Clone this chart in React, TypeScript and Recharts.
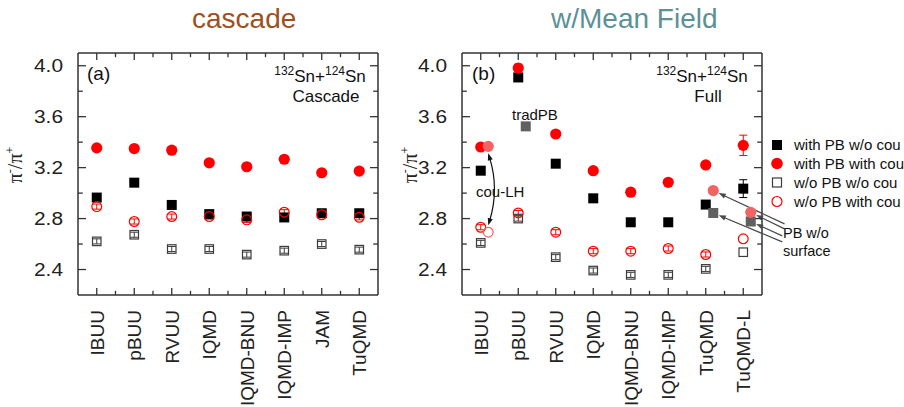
import React from "react";
import { ScatterChart, Scatter, XAxis, YAxis, ErrorBar, ReferenceLine } from "recharts";

const SANS = '"Liberation Sans", Arial, Helvetica, sans-serif';
const SERIF = '"Liberation Serif", "Times New Roman", serif';
const RED = "#ff0000";
const LIGHT_RED = "#f26464";
const GREY = "#606060";
const FRAME = "#333333";
const ARROW = "#4a4a4a";

// panel (a): cascade only
const cascadeModels = ["IBUU", "pBUU", "RVUU", "IQMD", "IQMD-BNU", "IQMD-IMP", "JAM", "TuQMD"];
const cascadePbNoCou = [2.965, 3.082, 2.907, 2.835, 2.816, 2.809, 2.842, 2.842];
const cascadePbCou = [3.355, 3.35, 3.337, 3.238, 3.207, 3.266, 3.16, 3.173];
const cascadeNoPbNoCou = [2.621, 2.673, 2.561, 2.561, 2.517, 2.548, 2.6, 2.556];
const cascadeNoPbCou = [2.894, 2.777, 2.816, 2.816, 2.79, 2.85, 2.83, 2.81];
const cascadeNoPbErr = [0.02, 0.02, 0.02, 0.02, 0.02, 0.02, 0.02, 0.02];

// panel (b): full calculation with mean field
const fullModels = ["IBUU", "pBUU", "RVUU", "IQMD", "IQMD-BNU", "IQMD-IMP", "TuQMD", "TuQMD-L"];
const fullPbNoCou = [3.176, 3.908, 3.231, 2.959, 2.771, 2.771, 2.91, 3.035];
const fullPbNoCouErr = [0, 0.02, 0.02, 0, 0, 0, 0, 0.07];
const fullPbCou = [3.362, 3.982, 3.464, 3.176, 3.007, 3.085, 3.221, 3.375];
const fullPbCouErr = [0, 0.03, 0, 0, 0, 0, 0, 0.08];
const fullNoPbNoCou = [2.609, 2.8, 2.497, 2.392, 2.358, 2.358, 2.405, 2.536];
const fullNoPbCou = [2.732, 2.844, 2.693, 2.544, 2.544, 2.565, 2.518, 2.641];
const fullNoPbErr = [0.02, 0.02, 0.02, 0.02, 0.02, 0.02, 0.02, 0];

// variants drawn just right of their model
const couLhModels = ["IBUU"];
const couLhPbCou = [3.367];
const couLhNoPbCou = [2.693];
const tradPbModels = ["pBUU"];
const tradPbPbNoCou = [3.524];
const noSurfaceModels = ["TuQMD", "TuQMD-L"];
const noSurfacePbCou = [3.02, 2.849];
const noSurfacePbNoCou = [2.844, 2.777];
const VARIANT_SHIFT = 0.2;

const yTicks = [2.4, 2.6, 2.8, 3.0, 3.2, 3.4, 3.6, 3.8, 4.0];
const yMajor = [2.4, 2.8, 3.2, 3.6, 4.0];
const xTicks = [1, 1.5, 2, 2.5, 3, 3.5, 4, 4.5, 5, 5.5, 6, 6.5, 7, 7.5, 8];
const Y_DOMAIN = [2.2, 4.1];
const X_DOMAIN = [0.5, 8.5];
const GAP = 9;

const pts = (axisModels: string[], models: string[], vals: number[], errs?: number[], shift = 0) =>
  vals.map((y, i) => ({ x: axisModels.indexOf(models[i]) + 1 + shift, y, err: errs ? errs[i] : 0 }));

const isMajorY = (v: number) => yMajor.some((m) => Math.abs(m - v) < 1e-6);

// marker shapes
const filledSquare = (color: string, s = 10) => (p: any) =>
  <rect x={p.cx - s / 2} y={p.cy - s / 2} width={s} height={s} fill={color} />;
const openSquare = (s = 8.5) => (p: any) =>
  <rect x={p.cx - s / 2} y={p.cy - s / 2} width={s} height={s} fill="none" stroke="#3c3c3c" strokeWidth={1.2} />;
const filledCircle = (color: string, r = 5.6) => (p: any) => <circle cx={p.cx} cy={p.cy} r={r} fill={color} />;
const openCircle = (color: string, r = 4.9) => (p: any) =>
  <circle cx={p.cx} cy={p.cy} r={r} fill="none" stroke={color} strokeWidth={1.2} />;

// tick labels only; the inward tick marks are drawn on the frame
const LeftTick = (p: any) => {
  const v = p.payload.value;
  if (!isMajorY(v)) return <g />;
  return (
    <text x={p.x} y={p.y} dy="0.36em" textAnchor="end" fontFamily={SANS} fontSize={18} fill="#222"
      textLength={29} lengthAdjust="spacingAndGlyphs">
      {v.toFixed(1)}
    </text>
  );
};

const makeBottomTick = (models: string[]) => (p: any) => {
  const v = p.payload.value;
  if (!Number.isInteger(v)) return <g />;
  const ty = p.y;
  return (
    <text x={p.x} y={ty} dy="0.36em" textAnchor="end" transform={`rotate(-90 ${p.x} ${ty})`}
      fontFamily={SANS} fontSize={19} fill="#222">
      {models[v - 1]}
    </text>
  );
};

// inward tick marks, anchored on the frame edges through the chart scales
const tickMark = (dx: number, dy: number) => (p: any) => {
  const k = p.payload && p.payload.major ? 1 : 0.6;
  return <line x1={p.cx} y1={p.cy} x2={p.cx + dx * k} y2={p.cy + dy * k} stroke={FRAME} strokeWidth={1.3} />;
};

// arrow annotations (coordinates come from the chart scales)
const head = (tx: number, ty: number, ux: number, uy: number, len = 7, half = 2.6) =>
  `${tx},${ty} ${tx - ux * len - uy * half},${ty - uy * len + ux * half} ${tx - ux * len + uy * half},${ty - uy * len - ux * half}`;

const pointer = (p: any) => {
  const { x1, y1, x2, y2 } = p;
  const L = Math.hypot(x2 - x1, y2 - y1);
  const ux = (x2 - x1) / L;
  const uy = (y2 - y1) / L;
  const ex = x2 - ux * 6;
  const ey = y2 - uy * 6;
  return (
    <g>
      <line x1={x1} y1={y1} x2={ex - ux * 5} y2={ey - uy * 5} stroke={ARROW} strokeWidth={1.3} />
      <polygon points={head(ex, ey, ux, uy)} fill={ARROW} />
    </g>
  );
};

const doubleCurve = (p: any) => {
  const { x1, y1, x2, y2 } = p;
  const cx = (x1 + x2) / 2 + 11;
  const cy = (y1 + y2) / 2;
  const sx = x1;
  const sy = y1 + 7;
  const ex = x2;
  const ey = y2 - 7;
  const n1 = Math.hypot(sx - cx, sy - cy);
  const n2 = Math.hypot(ex - cx, ey - cy);
  const u1 = [(sx - cx) / n1, (sy - cy) / n1];
  const u2 = [(ex - cx) / n2, (ey - cy) / n2];
  return (
    <g>
      <path d={`M${sx - u1[0] * 5},${sy - u1[1] * 5} Q${cx},${cy} ${ex - u2[0] * 5},${ey - u2[1] * 5}`}
        fill="none" stroke="#111" strokeWidth={1.2} />
      <polygon points={head(sx, sy, u1[0], u1[1])} fill="#111" />
      <polygon points={head(ex, ey, u2[0], u2[1])} fill="#111" />
    </g>
  );
};

interface PanelProps {
  models: string[];
  pbNoCou: any[];
  pbCou: any[];
  noPbNoCou: any[];
  noPbCou: any[];
  width: number;
  margin: { top: number; right: number; bottom: number; left: number };
  children?: React.ReactNode;
}

function Panel({ models, pbNoCou, pbCou, noPbNoCou, noPbCou, width, margin, children }: PanelProps) {
  const [x0, x1] = X_DOMAIN;
  const [y0, y1] = Y_DOMAIN;
  const leftTicks = yTicks.map((v) => ({ x: x0, y: v, major: isMajorY(v) }));
  const rightTicks = yTicks.map((v) => ({ x: x1, y: v, major: isMajorY(v) }));
  const bottomTicks = xTicks.map((v) => ({ x: v, y: y0, major: Number.isInteger(v) }));
  const topTicks = xTicks.map((v) => ({ x: v, y: y1, major: Number.isInteger(v) }));
  return (
    <ScatterChart width={width} height={407} margin={margin}>
      <XAxis type="number" dataKey="x" domain={X_DOMAIN} ticks={xTicks} interval={0} height={100}
        axisLine={{ stroke: FRAME, strokeWidth: 1.5 }} tickLine={false} tickMargin={GAP}
        tick={makeBottomTick(models)} />
      <YAxis type="number" dataKey="y" domain={Y_DOMAIN} ticks={yTicks} interval={0} width={60}
        axisLine={{ stroke: FRAME, strokeWidth: 1.5 }} tickLine={false} tickMargin={GAP}
        tick={LeftTick} />
      <ReferenceLine segment={[{ x: x1, y: y0 }, { x: x1, y: y1 }]} stroke={FRAME} strokeWidth={1.5} />
      <ReferenceLine segment={[{ x: x0, y: y1 }, { x: x1, y: y1 }]} stroke={FRAME} strokeWidth={1.5} />
      <Scatter data={leftTicks} shape={tickMark(8, 0)} isAnimationActive={false} />
      <Scatter data={rightTicks} shape={tickMark(-8, 0)} isAnimationActive={false} />
      <Scatter data={bottomTicks} shape={tickMark(0, -7)} isAnimationActive={false} />
      <Scatter data={topTicks} shape={tickMark(0, 7)} isAnimationActive={false} />
      <Scatter data={noPbNoCou} shape={openSquare()} isAnimationActive={false}>
        <ErrorBar dataKey="err" direction="y" width={4} stroke="#3c3c3c" strokeWidth={1} />
      </Scatter>
      <Scatter data={pbNoCou} shape={filledSquare("#000")} isAnimationActive={false}>
        <ErrorBar dataKey="err" direction="y" width={4} stroke="#000" strokeWidth={1} />
      </Scatter>
      <Scatter data={noPbCou} shape={openCircle(RED)} isAnimationActive={false}>
        <ErrorBar dataKey="err" direction="y" width={4} stroke={RED} strokeWidth={1} />
      </Scatter>
      <Scatter data={pbCou} shape={filledCircle(RED)} isAnimationActive={false}>
        <ErrorBar dataKey="err" direction="y" width={4} stroke={RED} strokeWidth={1} />
      </Scatter>
      {children}
    </ScatterChart>
  );
}

const superRow = (cx: number, y: number) => (
  <text x={cx} y={y} textAnchor="middle" fontFamily={SANS} fill="#111">
    <tspan fontSize={12} dy={-7}>132</tspan>
    <tspan fontSize={17} dy={7}>Sn+</tspan>
    <tspan fontSize={12} dy={-7}>124</tspan>
    <tspan fontSize={17} dy={7}>Sn</tspan>
  </text>
);

const yLabel = (x: number, y: number) => (
  <text x={x} y={y} transform={`rotate(-90 ${x} ${y})`} textAnchor="middle" fontFamily={SERIF} fontSize={20} fill="#222">
    π<tspan fontSize={12} dy={-8}>-</tspan>
    <tspan dy={8}>/π</tspan>
    <tspan fontSize={12} dy={-8}>+</tspan>
  </text>
);

export default function App() {
  const couLh = pts(fullModels, couLhModels, couLhPbCou, undefined, VARIANT_SHIFT);
  const couLhOpen = pts(fullModels, couLhModels, couLhNoPbCou, undefined, VARIANT_SHIFT);
  const tradPb = pts(fullModels, tradPbModels, tradPbPbNoCou, undefined, VARIANT_SHIFT);
  const noSurfCou = pts(fullModels, noSurfaceModels, noSurfacePbCou, undefined, VARIANT_SHIFT);
  const noSurfNoCou = pts(fullModels, noSurfaceModels, noSurfacePbNoCou, undefined, VARIANT_SHIFT);

  const legendRows = [
    { label: "with PB w/o cou", y: 145, shape: <rect x={772} y={140} width={10} height={10} fill="#000" /> },
    { label: "with PB with cou", y: 163.5, shape: <circle cx={777} cy={163.5} r={5.8} fill={RED} /> },
    { label: "w/o PB w/o cou", y: 182.5, shape: <rect x={772.5} y={178} width={9} height={9} fill="none" stroke="#3c3c3c" strokeWidth={1.2} /> },
    { label: "w/o PB with cou", y: 201.5, shape: <circle cx={777} cy={201.5} r={5} fill="none" stroke={RED} strokeWidth={1.2} /> },
  ];

  return (
    <div style={{ position: "absolute", left: 0, top: 0, width: 904, height: 407, background: "#fff", overflow: "hidden" }}>
      <div style={{ position: "absolute", left: 0, top: 0 }}>
        <Panel models={cascadeModels}
          pbNoCou={pts(cascadeModels, cascadeModels, cascadePbNoCou)}
          pbCou={pts(cascadeModels, cascadeModels, cascadePbCou)}
          noPbNoCou={pts(cascadeModels, cascadeModels, cascadeNoPbNoCou, cascadeNoPbErr)}
          noPbCou={pts(cascadeModels, cascadeModels, cascadeNoPbCou, cascadeNoPbErr)}
          width={400} margin={{ top: 53, right: 22, bottom: 12, left: 18 }} />
      </div>
      <div style={{ position: "absolute", left: 402, top: 0 }}>
        <Panel models={fullModels}
          pbNoCou={pts(fullModels, fullModels, fullPbNoCou, fullPbNoCouErr)}
          pbCou={pts(fullModels, fullModels, fullPbCou, fullPbCouErr)}
          noPbNoCou={pts(fullModels, fullModels, fullNoPbNoCou, fullNoPbErr)}
          noPbCou={pts(fullModels, fullModels, fullNoPbCou, fullNoPbErr)}
          width={502} margin={{ top: 53, right: 142, bottom: 12, left: 0 }}>
          <Scatter data={tradPb} shape={filledSquare(GREY)} isAnimationActive={false} />
          <Scatter data={noSurfNoCou} shape={filledSquare(GREY)} isAnimationActive={false} />
          <Scatter data={couLhOpen} shape={openCircle(LIGHT_RED)} isAnimationActive={false} />
          <Scatter data={couLh} shape={filledCircle(LIGHT_RED)} isAnimationActive={false} />
          <Scatter data={noSurfCou} shape={filledCircle(LIGHT_RED)} isAnimationActive={false} />
          <ReferenceLine ifOverflow="visible" shape={doubleCurve}
            segment={[{ x: couLh[0].x, y: couLh[0].y }, { x: couLhOpen[0].x, y: couLhOpen[0].y }]} />
          <ReferenceLine ifOverflow="visible" shape={pointer}
            segment={[{ x: 9.1, y: 2.758 }, { x: noSurfCou[0].x, y: noSurfCou[0].y }]} />
          <ReferenceLine ifOverflow="visible" shape={pointer}
            segment={[{ x: 9.1, y: 2.719 }, { x: noSurfCou[1].x, y: noSurfCou[1].y }]} />
          <ReferenceLine ifOverflow="visible" shape={pointer}
            segment={[{ x: 9.04, y: 2.664 }, { x: noSurfNoCou[1].x, y: noSurfNoCou[1].y }]} />
          <ReferenceLine ifOverflow="visible" shape={pointer}
            segment={[{ x: 9.04, y: 2.617 }, { x: noSurfNoCou[0].x, y: noSurfNoCou[0].y }]} />
        </Panel>
      </div>

      {/* titles, panel texts and legend */}
      <svg width={904} height={407} style={{ position: "absolute", left: 0, top: 0, pointerEvents: "none" }}>
        <text x={192} y={28} fontFamily={SANS} fontSize={28} fill="#a0501c">cascade</text>
        <text x={551} y={28} fontFamily={SANS} fontSize={28} fill="#5b9197">w/Mean Field</text>

        {yLabel(22, 165)}
        {yLabel(417, 165)}

        <text x={87} y={80} fontFamily={SANS} fontSize={19} fill="#111">(a)</text>
        <text x={472} y={80} fontFamily={SANS} fontSize={19} fill="#111">(b)</text>
        {superRow(320, 82)}
        <text x={326} y={102} textAnchor="middle" fontFamily={SANS} fontSize={17} fill="#111">Cascade</text>
        {superRow(702, 82)}
        <text x={708} y={102} textAnchor="middle" fontFamily={SANS} fontSize={17} fill="#111">Full</text>

        <text x={512} y={120} fontFamily={SANS} fontSize={15} fill="#111">tradPB</text>
        <text x={476} y={197} fontFamily={SANS} fontSize={15} fill="#111">cou-LH</text>
        <text x={783} y={238} fontFamily={SANS} fontSize={14.5} fill="#111">PB w/o</text>
        <text x={783} y={256} fontFamily={SANS} fontSize={14.5} fill="#111">surface</text>

        {legendRows.map((r) => (
          <g key={r.label}>
            {r.shape}
            <text x={794} y={r.y} dy="0.36em" fontFamily={SANS} fontSize={15} fill="#111">{r.label}</text>
          </g>
        ))}
      </svg>
    </div>
  );
}
